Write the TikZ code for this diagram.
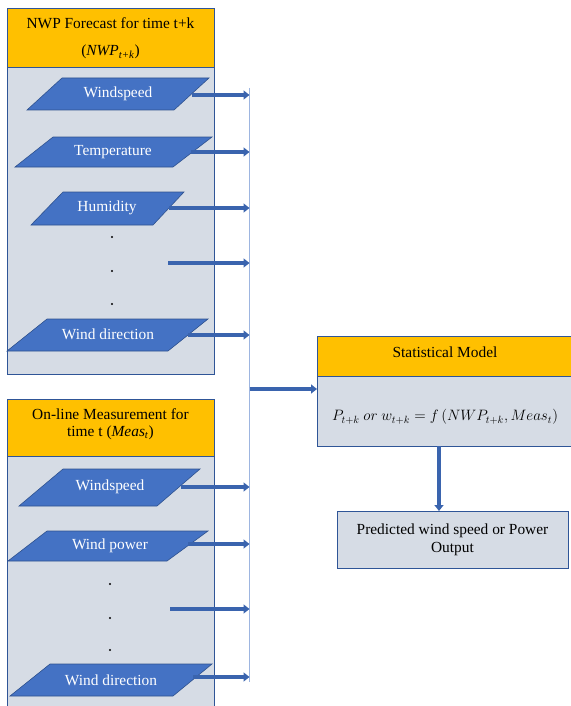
\documentclass[tikz,border=0pt]{standalone}
\usepackage{fontspec}
\setmainfont{Liberation Serif}
\usetikzlibrary{arrows.meta}
\definecolor{hdrc}{HTML}{FFC000}
\definecolor{bodyc}{HTML}{D6DCE5}
\definecolor{bordc}{HTML}{2F5597}
\definecolor{parac}{HTML}{4472C4}
\definecolor{parab}{HTML}{2F528F}
\definecolor{arrc}{HTML}{3A64AE}
\definecolor{busc}{HTML}{9DB5E0}
\newcommand\myfs{\fontsize{15.4}{18}\selectfont}
\tikzset{
  panel/.style={draw=bordc, line width=0.9pt, inner sep=0pt, outer sep=0pt, anchor=north west},
  hdrbox/.style={panel, fill=hdrc},
  bodybox/.style={panel, fill=bodyc},
  txt/.style={font=\myfs, inner sep=0pt, align=center},
  ptxt/.style={txt, text=white},
  paral/.style={fill=parac, draw=parab, line width=0.6pt},
  arr/.style={draw=arrc, line width=3.2pt, -{Triangle[length=6pt,width=9pt]}},
  busline/.style={draw=busc, line width=1pt},
  dotn/.style={circle, fill=black, inner sep=0pt, minimum size=2.4pt},
}
\begin{document}
\begin{tikzpicture}[x=1pt,y=-1pt]
\useasboundingbox (0,0) rectangle (570,706);

% ---------- top panel ----------
\node[bodybox, minimum width=207pt, minimum height=366pt] (nwpbody) at (7,8) {};
\node[hdrbox, minimum width=207pt, minimum height=59pt] (nwphead) at (7,8) {};
\node[txt] (nwpt1) at (110.5,23) {NWP Forecast for time t+k};
\node[txt] (nwpt2) at (110.5,52) {(\textit{NWP}\textsubscript{\textit{t+k}})};

% ---------- bottom panel ----------
\node[bodybox, minimum width=207pt, minimum height=330pt] (measbody) at (7,399) {};
\node[hdrbox, minimum width=207pt, minimum height=57pt] (meashead) at (7,399) {};
\node[txt] (meast1) at (110.5,414) {On-line Measurement for};
\node[txt] (meast2) at (110.5,433) {time t (\textit{Meas}\textsubscript{\textit{t}})};

% ---------- parallelograms, top ----------
\path[paral] (62,78)--(209,78)--(174,110)--(27,110)--cycle;
\node[ptxt] (pws) at (118,94) {Windspeed};
\coordinate (pwsE) at (191.5,95);
\path[paral] (53,137)--(212,137)--(173,167)--(15,167)--cycle;
\node[ptxt] (ptemp) at (113,152) {Temperature};
\coordinate (ptempE) at (191,152);
\path[paral] (63,192)--(184,192)--(153,225)--(31,225)--cycle;
\node[ptxt] (phum) at (107,208) {Humidity};
\coordinate (phumE) at (169,208);
\node[dotn] (td1) at (112,237) {};
\node[dotn] (td2) at (112,271) {};
\node[dotn] (td3) at (112,304) {};
\coordinate (pdotE) at (168,263);
\path[paral] (47,319)--(208,319)--(168,351)--(7,351)--cycle;
\node[ptxt] (pwd) at (108,334) {Wind direction};
\coordinate (pwdE) at (188,335);

% ---------- parallelograms, bottom ----------
\path[paral] (63,469)--(200,469)--(157,506)--(19,506)--cycle;
\node[ptxt] (mws) at (110,487) {Windspeed};
\coordinate (mwsE) at (181,487);
\path[paral] (47,531)--(208,531)--(167,561)--(8,561)--cycle;
\node[ptxt] (mwp) at (110,546) {Wind power};
\coordinate (mwpE) at (188,544);
\node[dotn] (bd1) at (110,584) {};
\node[dotn] (bd2) at (110,618) {};
\node[dotn] (bd3) at (110,650) {};
\coordinate (mdotE) at (170,609);
\path[paral] (50,664)--(212,664)--(173,696)--(10,696)--cycle;
\node[ptxt] (mwd) at (111,680) {Wind direction};
\coordinate (mwdE) at (193,677);

% ---------- bus ----------
\coordinate (busTop) at (249.5,88);
\coordinate (busBot) at (249.5,682);
\coordinate (busMid) at (249.5,389);
\draw[busline] (busTop) -- (busBot);

\foreach \s in {pwsE,ptempE,phumE,pdotE,pwdE,mwsE,mwpE,mdotE,mwdE}
  \draw[arr] (\s) -- (\s -| busTop);

% ---------- statistical model ----------
\node[bodybox, minimum width=260pt, minimum height=110pt] (statbody) at (317,336) {};
\node[hdrbox, minimum width=260pt, minimum height=40pt] (stathead) at (317,336) {};
\node[txt] (statt) at (445,352) {Statistical Model};
\node[txt, font=\fontsize{14.4}{17}\selectfont, scale=1.045] (formula) at (445,417) {$P_{t+k}\ or\ w_{t+k} = f\,(NWP_{t+k}, Meas_t)$};

\draw[arr] (busMid) -- (busMid -| statbody.west);

% ---------- prediction ----------
\node[panel, fill=bodyc, anchor=center, minimum width=231pt, minimum height=57pt, txt] (pred) at (452.5,539.5) {Predicted wind speed or Power\\Output};
\coordinate (dnStart) at (439,446);
\draw[arr] (dnStart) -- (dnStart |- pred.north);
\end{tikzpicture}
\end{document}
